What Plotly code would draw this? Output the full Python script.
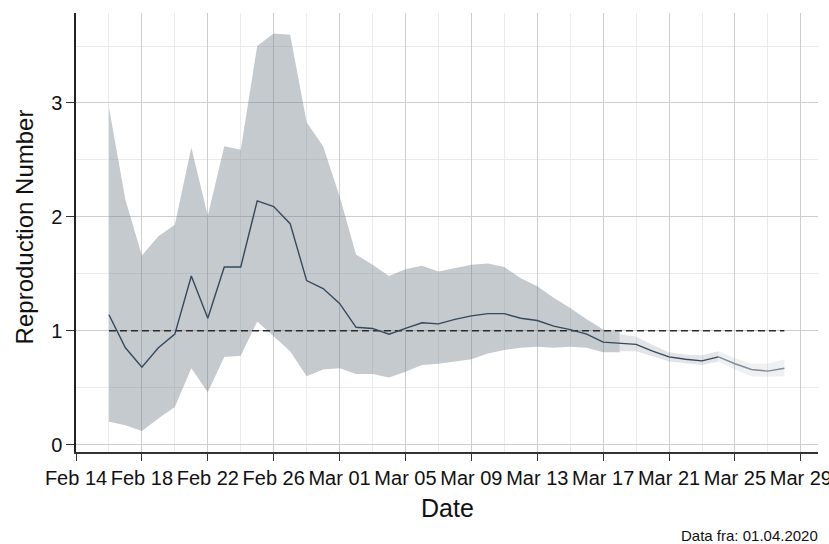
import pandas as pd
import plotly.graph_objects as go

# ---- data ----
dates = [d.strftime("%Y-%m-%d") for d in pd.date_range("2020-02-16", "2020-03-28")]
r_est = [1.14, 0.85, 0.68, 0.85, 0.97, 1.48, 1.11, 1.56, 1.56, 2.14, 2.09, 1.94, 1.44, 1.37,
         1.24, 1.03, 1.02, 0.97, 1.02, 1.07, 1.06, 1.10, 1.13, 1.15, 1.15, 1.11, 1.09, 1.04,
         1.01, 0.97, 0.90, 0.89, 0.88, 0.82, 0.77, 0.75, 0.735, 0.77, 0.71, 0.66, 0.645, 0.67]
# credible band, Feb 16 - Mar 18
ci_upper = [2.96, 2.15, 1.66, 1.83, 1.93, 2.61, 2.01, 2.62, 2.59, 3.50, 3.61, 3.60, 2.83, 2.62,
            2.18, 1.67, 1.58, 1.48, 1.54, 1.57, 1.52, 1.55, 1.58, 1.59, 1.56, 1.46, 1.39, 1.29,
            1.20, 1.10, 1.01, 0.99]
ci_lower = [0.20, 0.17, 0.12, 0.23, 0.33, 0.67, 0.46, 0.77, 0.78, 1.08, 0.95, 0.82, 0.60, 0.66,
            0.67, 0.62, 0.62, 0.59, 0.64, 0.70, 0.71, 0.73, 0.75, 0.80, 0.83, 0.85, 0.86, 0.85,
            0.86, 0.85, 0.81, 0.81]
# nowcast band, Mar 18 - Mar 28
nc_upper = [0.97, 0.95, 0.875, 0.81, 0.79, 0.785, 0.82, 0.76, 0.71, 0.71, 0.75]
nc_lower = [0.82, 0.82, 0.775, 0.73, 0.715, 0.70, 0.73, 0.66, 0.60, 0.595, 0.60]
threshold = 1.0
x_tick_labels_fmt = "%b %d"
data_note = "Data fra: 01.04.2020"

n_ci = len(ci_upper)
nc_dates = dates[n_ci - 1:]
split = 6  # Mar 24

FONT = "Liberation Sans, Arial, Helvetica, sans-serif"

def band(xs, up, lo, color):
    return go.Scatter(x=list(xs) + list(xs)[::-1], y=list(up) + list(lo)[::-1],
                      fill="toself", fillcolor=color, line=dict(width=0),
                      mode="lines", hoverinfo="skip", showlegend=False)

fig = go.Figure()
fig.add_trace(band(dates[:n_ci], ci_upper, ci_lower, "rgba(110,122,135,0.40)"))
fig.add_trace(band(nc_dates[:split + 1], nc_upper[:split + 1], nc_lower[:split + 1], "rgba(110,122,135,0.20)"))
fig.add_trace(band(nc_dates[split:], nc_upper[split:], nc_lower[split:], "rgba(110,122,135,0.11)"))
fig.add_trace(go.Scatter(x=[dates[0], dates[-1]], y=[threshold, threshold], mode="lines",
                         line=dict(color="#2b2b2b", width=1.6, dash="7px,4px"), showlegend=False))
n_dark = n_ci - 1 + split + 1
fig.add_trace(go.Scatter(x=dates[:n_dark], y=r_est[:n_dark], mode="lines",
                         line=dict(color="#34495e", width=1.4), showlegend=False))
fig.add_trace(go.Scatter(x=dates[n_dark - 1:], y=r_est[n_dark - 1:], mode="lines",
                         line=dict(color="#7f8b97", width=1.4), showlegend=False))

DAY = 86400000
fig.update_layout(
    width=829, height=544,
    margin=dict(l=76, r=11, t=13, b=92),
    paper_bgcolor="white", plot_bgcolor="white",
    font=dict(family=FONT, color="#111111"),
    showlegend=False,
)
fig.update_xaxes(
    type="date", range=["2020-02-14", "2020-03-30 01:00"], automargin=False,
    tick0="2020-02-14", dtick=4 * DAY, tickformat=x_tick_labels_fmt,
    tickfont=dict(size=20, family=FONT, color="#111111"),
    ticks="outside", ticklen=7, tickcolor="#333333", tickwidth=1.2,
    showline=True, linecolor="#333333", linewidth=2.2,
    showgrid=True, gridcolor="#cdcdcd", gridwidth=1,
    minor=dict(dtick=2 * DAY, tick0="2020-02-14", showgrid=True, gridcolor="#ebebeb", gridwidth=1, ticks=""),
    zeroline=False, ticklabeloverflow="allow",
)
fig.update_yaxes(
    range=[-0.065, 3.79], tick0=0, dtick=1, automargin=False,
    tickfont=dict(size=20, family=FONT, color="#111111"),
    ticks="outside", ticklen=8, tickcolor="#333333", tickwidth=1.2,
    showline=True, linecolor="#222222", linewidth=1.5,
    showgrid=True, gridcolor="#cdcdcd", gridwidth=1,
    minor=dict(dtick=0.5, tick0=0, showgrid=True, gridcolor="#ebebeb", gridwidth=1, ticks=""),
    zeroline=False,
)
fig.add_annotation(text="Reproduction Number", textangle=-90, xref="paper", yref="paper",
                   x=-0.069, y=0.5135, xanchor="center", yanchor="middle", showarrow=False,
                   font=dict(size=24, family=FONT, color="#111111"))
fig.add_annotation(text="Date", xref="paper", yref="paper", x=0.5, y=-0.128,
                   xanchor="center", yanchor="middle", showarrow=False,
                   font=dict(size=25, family=FONT, color="#111111"))
fig.add_annotation(text=data_note, xref="paper", yref="paper", x=1.0027, y=-0.19,
                   xanchor="right", yanchor="middle", showarrow=False,
                   font=dict(size=15, family=FONT, color="#111111"))

fig.write_html("out.html")
